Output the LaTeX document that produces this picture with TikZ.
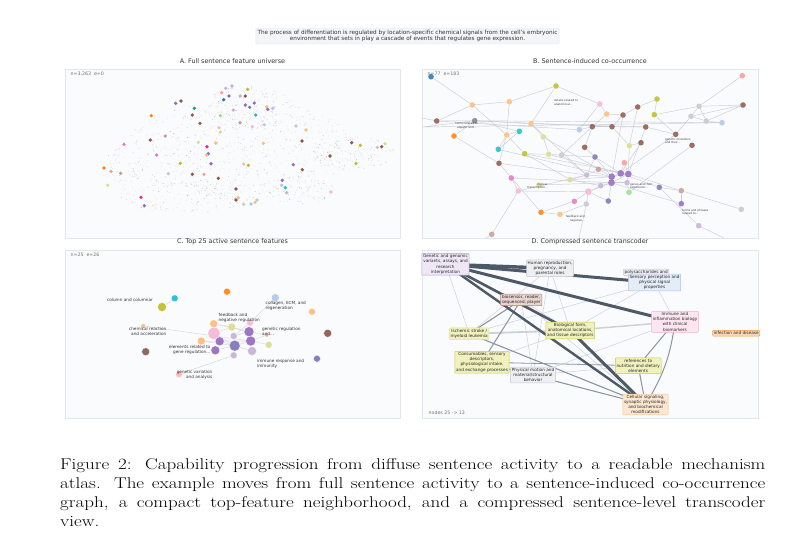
\documentclass[tikz,border=0pt]{standalone}
\usepackage{fontspec}
\setsansfont{DejaVu Sans}
\usetikzlibrary{positioning}

\definecolor{tpurple}{HTML}{9467BD}
\definecolor{tlilac}{HTML}{C5B0D5}
\definecolor{tbrown}{HTML}{8C564B}
\definecolor{trosy}{HTML}{C49C94}
\definecolor{tpink}{HTML}{E377C2}
\definecolor{tpinkl}{HTML}{F7B6D2}
\definecolor{tgray}{HTML}{7F7F7F}
\definecolor{tgrayl}{HTML}{C7C7C7}
\definecolor{tolive}{HTML}{BCBD22}
\definecolor{tolivel}{HTML}{DBDB8D}
\definecolor{tcyan}{HTML}{17BECF}
\definecolor{tblue}{HTML}{1F77B4}
\definecolor{tbluel}{HTML}{AEC7E8}
\definecolor{torange}{HTML}{FF7F0E}
\definecolor{tpeach}{HTML}{FFBB78}
\definecolor{tgreenl}{HTML}{98DF8A}
\definecolor{tsalmon}{HTML}{FF9896}
\definecolor{tslate}{HTML}{7B73B8}
\definecolor{tmag}{HTML}{E7298A}
\definecolor{tteal}{HTML}{1B9E77}
\definecolor{frame}{HTML}{E1E5EC}
\definecolor{framebg}{HTML}{FAFBFD}
\definecolor{qfill}{HTML}{F3F5F9}
\definecolor{bedge}{HTML}{C9CDD5}
\definecolor{dkedge}{HTML}{4E5968}
\definecolor{mdedge}{HTML}{8A94A2}
\definecolor{ltedge}{HTML}{CDD2DA}
\definecolor{lavf}{HTML}{EFE7F6}
\definecolor{lavd}{HTML}{B9A3D3}
\definecolor{greyf}{HTML}{EEEFF1}
\definecolor{greyd}{HTML}{C6C9CE}
\definecolor{rosef}{HTML}{EAD5D1}
\definecolor{rosed}{HTML}{B27F75}
\definecolor{yelf}{HTML}{F1F1BE}
\definecolor{yeld}{HTML}{CACA55}
\definecolor{bluef}{HTML}{E4ECF8}
\definecolor{blued}{HTML}{AFC4E6}
\definecolor{pinkf}{HTML}{FCE6EF}
\definecolor{pinkd}{HTML}{F1B4CA}
\definecolor{orf}{HTML}{FDD8B2}
\definecolor{ord}{HTML}{F49A4A}
\definecolor{peachf}{HTML}{FDE7D1}
\definecolor{peachd}{HTML}{F7C28C}

\pgfdeclarelayer{bg}
\pgfdeclarelayer{lk}
\pgfsetlayers{bg,lk,main}

\begin{document}
\begin{tikzpicture}[x=1pt, y=-1pt,
    every node/.style={font=\sffamily},
    panel/.style={rectangle, draw=frame, fill=framebg, line width=0.6pt, inner sep=0pt},
    ttl/.style={font=\sffamily\fontsize{6.4}{7.2}\selectfont, text=black!80, inner sep=0pt},
    cnt/.style={font=\sffamily\fontsize{4.7}{5.5}\selectfont, text=black!55, inner sep=0pt},
    qbox/.style={rectangle, rounded corners=1pt, draw=frame, fill=qfill, align=center,
                 font=\sffamily\fontsize{5.7}{6.8}\selectfont, inner sep=1.8pt, text=black!80},
    bn/.style={circle, inner sep=0pt, minimum size=5.6pt, fill opacity=0.85},
    bnb/.style={bn, minimum size=6.8pt},
    bl/.style={font=\sffamily\fontsize{2.8}{3.3}\selectfont, inner sep=0pt, text=black!75},
    ed/.style={draw=bedge, line width=0.45pt},
    cn/.style={circle, inner sep=0pt, draw=white, line width=0.3pt, fill opacity=0.9},
    cl/.style={font=\sffamily\fontsize{4.2}{5}\selectfont, inner sep=0pt, text=black!80},
    ce/.style={draw=black!15, line width=0.5pt},
    dbx/.style={rectangle, rounded corners=0.8pt, align=center, inner sep=1.2pt, line width=0.5pt,
                font=\sffamily\fontsize{4.2}{5.1}\selectfont, text=black!85},
    dkl/.style={draw=dkedge, line width=#1},
    mdl/.style={draw=mdedge, line width=#1},
    ltl/.style={draw=ltedge, line width=#1},
    figcap/.style={font=\rmfamily\fontsize{15.6}{19}\selectfont, text width=578pt, align=justify,
                   inner sep=0pt, xscale=1.22, transform shape},
  ]
  \useasboundingbox (0,0) rectangle (810,539);

  % query sentence
  \node[qbox] (query) at (407.5,36) {The process of differentiation is regulated by location-specific chemical signals from the cell's embryonic\\environment that sets in play a cascade of events that regulates gene expression.};

  % panel frames
  \begin{pgfonlayer}{bg}
    \node[panel, minimum width=335, minimum height=169] (pA) at (232.5,153.5) {};
    \node[panel, minimum width=336, minimum height=169] (pB) at (590,153.5) {};
    \node[panel, minimum width=335, minimum height=168] (pC) at (232.5,334) {};
    \node[panel, minimum width=336, minimum height=168] (pD) at (590,334) {};
  \end{pgfonlayer}
  \node[ttl, above=4.5pt of pA] (tA) {A. Full sentence feature universe};
  \node[ttl, above=4.5pt of pB] (tB) {B. Sentence-induced co-occurrence};
  \node[ttl, above=4.5pt of pC] (tC) {C. Top 25 active sentence features};
  \node[ttl, above=4.5pt of pD] (tD) {D. Compressed sentence transcoder};
  \node[cnt, anchor=north west] (nA) at (70.5,72) {n=3,263~~e=0};
  \node[cnt, anchor=north west] (nB) at (427.5,72) {n=77~~e=183};
  \node[cnt, anchor=north west] (nC) at (70.5,253) {n=25~~e=26};
  \node[cnt, anchor=west] (nD) at (428.5,412.3) {nodes 25 -> 13};

  % A: faint feature cloud
  \pgfmathsetseed{11}
  \foreach \cx/\cy/\rx/\ry/\nn in {238/150/118/50/650, 248/108/45/22/180, 352/153/42/17/160,
                                   185/196/65/18/200, 122/168/22/20/70, 300/190/35/14/100}{
    \foreach \i in {1,...,\nn}{
      \pgfmathsetmacro\ang{360*rnd}
      \pgfmathsetmacro\rr{sqrt(rnd)}
      \pgfmathtruncatemacro\k{mod(\i,3)}
      \ifcase\k \def\dc{tgray}\or\def\dc{tbluel}\or\def\dc{tpeach}\fi
      \fill[\dc, opacity=0.45] ({\cx+\rx*\rr*cos(\ang)},{\cy+\ry*\rr*sin(\ang)}) circle (0.45);
    }
  }
  % A: active features
  \foreach \x/\y/\c in {225.7/88.3/tlilac, 232/86/tlilac, 247.7/89.3/tolive, 221.7/92.7/tsalmon,
      229/96/tpurple, 240.3/96/tlilac, 245.3/96/tbrown, 223.7/99.7/tblue, 175.7/103.3/tslate,
      181/101/tbrown, 194.3/108.3/tteal, 245.3/105/tpurple, 254.3/103/tpurple, 249.7/107.3/tgray,
      266.7/106.7/tpeach, 267.7/109.3/tpurple, 272.7/108.3/tbluel, 233.3/110/tlilac, 255.7/115/tcyan,
      151.3/115.7/torange, 192.3/115/tbrown, 220.3/115.7/tgreenl, 240/122.7/trosy, 200/123.3/tbrown,
      264.3/124.7/tgrayl, 252.3/126.7/tpinkl, 296/126/tgrayl, 219/127.7/tpinkl, 220.3/132/tolivel,
      306/130/tpeach, 165.3/136/trosy, 150.3/140/tbrown, 302/141/tbrown, 198.3/142.3/tolivel,
      215.7/143/tpeach, 263.3/143.3/tpeach, 207/146.7/tmag, 124/144.3/tpink, 351.7/142.7/tbrown,
      360.3/145.3/tolive, 381.7/146.7/tbrown, 377.3/147.3/tgrayl, 385/143.7/tolivel, 208.3/153.7/tslate,
      206.7/155/tpeach, 156.7/155/tpink, 330/156/tbrown, 180.3/163.3/tolive, 211/163.7/tpurple,
      243.7/164/tpinkl, 248.3/165.3/tolive, 293.3/164.7/tpurple, 356/163.3/tolive, 104/168/torange,
      111/171.3/tsalmon, 120.7/173.3/trosy, 302.3/169.7/tbrown, 168.3/173.7/tgrayl, 192.3/174.3/tbrown,
      204/174.3/tsalmon, 218.3/178.3/tbrown, 282.3/180.3/tslate, 281.7/185.3/tbluel, 285.3/187.7/tcyan,
      286.7/192.7/tlilac, 236/189/tbrown, 331/192/tpinkl, 107.7/185.3/tolivel, 141/197.3/tmag,
      144.3/205.7/tpurple, 236/200/tbrown, 238.3/197.7/tpeach, 243.7/204.3/tgrayl, 251/204/tbluel,
      255/202.3/tpeach, 257/200/tgrayl}
    \fill[\c] (\x,\y) circle (1.8);

  % B: co-occurrence graph
  \foreach \n/\x/\y/\c in {1/431/76.7/tblue, 2/742.3/75.7/tsalmon, 3/556/86/tolive, 4/472.3/105/tpeach,
      5/509.3/101.7/tpeach, 6/599.7/104/tpinkl, 7/637.7/107/tbrown, 8/657/99/tolive, 9/699/106.3/tgrayl,
      10/743/105/tbrown, 11/606.7/114/tpeach, 12/623/115/tbrown, 13/654.3/114.7/tolive, 14/691/116.3/tgrayl,
      15/436.7/121/tbrown, 16/474.7/120.7/tgray, 17/531/123.7/tpeach, 18/706.3/121/tgrayl, 19/722/122.7/tbluel,
      20/592.3/126.7/tbrown, 21/612/126.7/tbrown, 22/645.7/127/tbrown, 23/579.3/129.7/tbluel, 24/519.3/131.3/tcyan,
      25/454/136/torange, 26/506.7/135/tpeach, 27/543.3/137/tolivel, 28/675.7/134.3/tbrown, 29/584.7/147.3/tbrown,
      30/629.3/145.7/tolivel, 31/641/142.7/tbrown, 32/692/145.3/tbrown, 33/498.3/149.3/tcyan, 34/524.7/153.7/tolive,
      35/548.7/154.3/tolivel, 36/561.7/155/tgrayl, 37/595/157/tslate, 38/499/163.3/tbrown, 39/624.3/162.7/tsalmon,
      40/598.3/169.3/trosy, 44/586.7/175/tlilac, 45/511.3/178/tpink, 46/570/179.7/tolivel, 48/627/182.7/tlilac,
      49/600.7/185.7/tlilac, 50/518.3/191/tpinkl, 51/539/185/tolivel, 53/629/192.3/tgreenl, 54/659.3/187.3/tslate,
      55/681.3/190.7/trosy, 56/681.3/203.7/tpurple, 57/741.3/209.3/tgrayl, 58/698.7/225.7/tlilac, 59/574.3/201.3/tpink,
      60/586.3/204/tgrayl, 61/608.3/201/tslate, 62/541/212.3/torange, 63/560/214.3/tpeach, 64/491.7/234.3/trosy}
    \node[bn, fill=\c] (b\n) at (\x,\y) {};
  \foreach \n/\x/\y/\c in {41/620.7/173.3/tpurple, 42/628.3/174/tpurple, 43/611.7/176.7/tpurple,
      47/611.5/182.7/tpurple, 52/588.3/191.7/tpinkl}
    \node[bnb, fill=\c] (b\n) at (\x,\y) {};
  \coordinate (bL1) at (422,118);
  \coordinate (bL2) at (422,127);
  \coordinate (bD1) at (486,238);
  \coordinate (bD2) at (579,238);
  \coordinate (bD3) at (724,238);
  \begin{pgfonlayer}{lk}
    \foreach \u/\v in {1/4, 4/5, 5/3, 3/17, 4/15, 4/26, 5/26, 15/16, 16/17, 16/24, 3/6, 6/11, 7/8, 7/12,
        8/13, 9/14, 9/10, 9/18, 14/18, 18/19, 10/14, 12/11, 11/20, 20/21, 21/22, 21/12, 23/20, 16/21, 17/22,
        15/23, 24/26, 24/33, 26/33, 26/34, 25/38, 27/17, 27/35, 28/22, 28/14, 28/41, 29/20, 29/37, 30/31,
        30/42, 30/21, 32/53, 34/35, 35/36, 36/37, 36/20, 37/41, 37/43, 37/44, 38/26, 39/42, 39/41, 40/44,
        40/41, 41/42, 41/43, 42/43, 43/44, 42/47, 43/47, 44/46, 47/48, 47/49, 48/53, 49/52, 47/52, 42/48,
        46/43, 46/49, 46/34, 33/43, 34/42, 35/41, 27/43, 45/47, 38/44, 51/47, 50/52, 50/64, 50/45, 50/44,
        52/59, 52/60, 52/61, 61/47, 59/62, 62/63, 63/60, 62/38, 54/41, 54/55, 55/42, 56/47, 57/55, 58/54,
        2/9, 10/18, 19/16, 13/28, 7/30, 6/23, 44/36, 25/16, 13/9, 31/41, 22/42, 12/43, 17/44, 56/55}
      \draw[ed] (b\u) -- (b\v);
    \draw[ed] (bL1) -- (b15) (bL2) -- (b16) (bL2) -- (b19) (b64) -- (bD1) (b60) -- (bD2) (b58) -- (bD3);
  \end{pgfonlayer}
  \node[bl, anchor=north west, align=left] (lb1) at (554,99.6) {details related to\\anatomical...};
  \node[bl, anchor=north, align=center] (lb2) at (466.7,122.6) {terms related to\\aquatic and...};
  \node[bl, anchor=north west, align=left] (lb3) at (665,138.3) {genetic mutations\\and their...};
  \node[bl, anchor=north east, align=right] (lb4) at (548,183.3) {nuclear\\transcription...};
  \node[bl, anchor=north west, align=left] (lb5) at (630,183.3) {genes and their\\expression...};
  \node[bl, anchor=north west, align=left] (lb6) at (682,209.3) {terms and phrases\\related to...};
  \node[bl, anchor=north east, align=right] (lb7) at (585,215.6) {feedback and\\negative...};

  % C: top active features
  \node[cn, fill=tolive, minimum size=9pt] (cCol) at (162,307) {};
  \node[cn, fill=tcyan, minimum size=7pt] (cCy) at (174.7,298.3) {};
  \node[cn, fill=torange, minimum size=7pt] (cOr) at (227,291.7) {};
  \node[cn, fill=tbluel, minimum size=8pt] (cEcm) at (275.3,297.7) {};
  \node[cn, fill=tpeach, minimum size=7pt] (cPe1) at (312,311.7) {};
  \node[cn, fill=tbrown, minimum size=8pt] (cBr1) at (327.7,333.3) {};
  \node[cn, fill=tbrown, minimum size=8pt] (cBr2) at (145.7,351.7) {};
  \node[cn, fill=tslate, minimum size=7pt] (cSl) at (317,358.7) {};
  \node[cn, fill=tsalmon!70, minimum size=7pt] (cVar) at (179,374.3) {};
  \node[cn, fill=tpeach, minimum size=5pt] (cChem) at (143.3,326) {};
  \node[cn, fill=tpeach, minimum size=8pt] (cPe2) at (213.7,323.7) {};
  \node[cn, fill=tolivel, minimum size=8pt] (cFb) at (231.7,327) {};
  \node[cn, fill=tpinkl, minimum size=7pt] (cPk1) at (250,322.7) {};
  \node[cn, fill=tpinkl, minimum size=12pt] (cPk2) at (214,333.3) {};
  \node[cn, fill=tlilac, minimum size=7pt] (cLi1) at (233.7,336) {};
  \node[cn, fill=tpurple, minimum size=10pt] (cPu1) at (249,331.7) {};
  \node[cn, fill=tsalmon, minimum size=4pt] (cGr) at (266.7,335) {};
  \node[cn, fill=tpurple, minimum size=9pt] (cPu2) at (219.7,341.3) {};
  \node[cn, fill=tpeach, minimum size=8pt] (cPe3) at (201.3,341) {};
  \node[cn, fill=tslate, minimum size=11pt] (cSl2) at (234.7,345.7) {};
  \node[cn, fill=tpurple, minimum size=10pt] (cPu3) at (250.7,341) {};
  \node[cn, fill=tolivel, minimum size=7pt] (cOl) at (268.7,344.7) {};
  \node[cn, fill=tpurple, minimum size=9pt] (cEl) at (215.3,350.3) {};
  \node[cn, fill=tlilac, minimum size=9pt] (cImm) at (252,351) {};
  \node[cn, fill=tlilac, minimum size=7pt] (cLi2) at (233.7,355.3) {};
  \begin{pgfonlayer}{lk}
    \draw[ce] (cCol) -- (cCy) (cChem) -- (cPu3) (cEcm) -- (cPk1) (cVar) -- (cLi2)
      (cPe2) -- (cFb) (cPe2) -- (cPu1) (cFb) -- (cPu1) (cFb) -- (cPk2) (cPk2) -- (cSl2)
      (cPk2) -- (cPu2) (cLi1) -- (cPu1) (cLi1) -- (cSl2) (cPu1) -- (cPu3) (cPu1) -- (cGr)
      (cPu2) -- (cSl2) (cPu2) -- (cEl) (cPe3) -- (cSl2) (cPe3) -- (cPu3) (cSl2) -- (cPu3)
      (cSl2) -- (cImm) (cSl2) -- (cEl) (cSl2) -- (cLi2) (cPu3) -- (cOl) (cPu3) -- (cImm)
      (cLi1) -- (cPk1) (cPu3) -- (cGr);
  \end{pgfonlayer}
  \node[cl, anchor=east] (lc1) at (153,300.3) {column and columnar};
  \node[cl, anchor=north west, align=left] (lc2) at (265.5,300.6) {collagen, ECM, and\\regeneration};
  \node[cl, anchor=north west, align=left] (lc3) at (218.5,313.2) {feedback and\\negative regulation};
  \node[cl, anchor=north east, align=right] (lc4) at (166.5,327.2) {chemical reaction\\and acceleration};
  \node[cl, anchor=north west, align=left] (lc5) at (262,326.6) {genetic regulation\\and...};
  \node[cl, anchor=north east, align=right] (lc6) at (210.5,345.2) {elements related to\\gene regulation...};
  \node[cl, anchor=north west, align=left] (lc7) at (257,358.9) {immune response and\\immunity};
  \node[cl, anchor=north east, align=right] (lc8) at (212.5,369.6) {genetic variation\\and analysis};

  % D: compressed transcoder
  \node[dbx, fill=lavf, draw=lavd] (dGen) at (445.5,264.3) {Genetic and genomic\\variants, assays, and\\research\\interpretation};
  \node[dbx, fill=greyf, draw=greyd] (dHum) at (550,268.2) {Human reproduction,\\pregnancy, and\\parental roles};
  \node[dbx, fill=rosef, draw=rosed] (dBio) at (521.2,299.9) {biosensor, reader,\\sequenced, player};
  \node[dbx, fill=yelf, draw=yeld!60] (dIsc) at (469.2,333.7) {Ischemic stroke /\\myeloid leukemia};
  \node[dbx, fill=yelf, draw=yeld] (dForm) at (570.3,330.5) {Biological form,\\anatomical locations,\\and tissue descriptors};
  \node[dbx, fill=greyf, draw=greyd, anchor=north] (dPoly) at (646.2,268.8) {polysaccharides and};
  \node[dbx, fill=bluef, draw=blued] (dSen) at (654.5,282.5) {Sensory perception and\\physical signal\\properties};
  \node[dbx, fill=pinkf, draw=pinkd] (dImm) at (675,321.8) {Immune and\\inflammation biology\\with clinical\\biomarkers};
  \node[dbx, fill=orf, draw=ord] (dInf) at (736.2,333.2) {infection and disease};
  \node[dbx, fill=yelf, draw=yeld] (dCon) at (482,362.2) {Consumables, sensory\\descriptors,\\physiological intake,\\and exchange processes};
  \node[dbx, fill=greyf, draw=greyd] (dPhy) at (533,375) {Physical motion and\\material/structural\\behavior};
  \node[dbx, fill=yelf, draw=yeld] (dRef) at (638.2,365.7) {references to\\nutrition and dietary\\elements};
  \node[dbx, fill=peachf, draw=peachd] (dCel) at (645.5,404.5) {Cellular signaling,\\synaptic physiology,\\and biochemical\\modifications};
  \begin{pgfonlayer}{lk}
    \draw[ltl=0.5] (dGen.center) -- (dIsc.center);
    \draw[ltl=0.5] (dHum.center) -- (dIsc.center);
    \draw[ltl=0.5] (dHum.center) -- (dPhy.center);
    \draw[ltl=0.5] (dHum.center) -- (dForm.center);
    \draw[ltl=0.5] (dBio.center) -- (dPhy.center);
    \draw[ltl=0.5] (dBio.center) -- (dForm.center);
    \draw[ltl=0.5] (dBio.center) -- (dCel.center);
    \draw[ltl=0.5] (dSen.center) -- (dForm.center);
    \draw[ltl=0.5] (dSen.center) -- (dImm.center);
    \draw[ltl=0.5] (dSen.center) -- (dIsc.center);
    \draw[ltl=0.5] (dImm.center) -- (dPhy.center);
    \draw[ltl=0.5] (dRef.center) -- (dPhy.center);
    \draw[ltl=0.5] (dPhy.center) -- (dCel.center);
    \draw[ltl=0.5] (dCon.center) -- (dForm.center);
    \draw[ltl=1.8] (dIsc.center) -- (dForm.center);
    \draw[ltl=1.5] (dForm.center) -- (dImm.center);
    \draw[mdl=0.8] (dCon.center) -- (dRef.center);
    \draw[mdl=1.1] (dBio.center) -- (dIsc.center);
    \draw[mdl=1] (dBio.center) -- (dCon.center);
    \draw[mdl=1.1] (dIsc.center) -- (dCel.center);
    \draw[mdl=1] (dImm.center) -- (dRef.center);
    \draw[mdl=1] (dImm.center) to[bend left=12] (dCel.center);
    \draw[mdl=1] (dRef.center) -- (dCel.center);
    \draw[mdl=1] (dCon.center) -- (dCel.center);
    \draw[dkl=3.4] (dGen.center) -- (dHum.center);
    \draw[dkl=3] (dGen.center) -- (dSen.center);
    \draw[dkl=3] (dGen.center) -- (dImm.center);
    \draw[dkl=2.6] (dGen.center) -- (dForm.center);
    \draw[dkl=2.4] (dGen.center) -- (dCel.center);
    \draw[dkl=3] (dForm.center) -- (dCel.center);
  \end{pgfonlayer}

  % figure caption
  \coordinate (capAt) at (60,458);
  \node[figcap, anchor=north west] (caption) at (capAt) {Figure 2: Capability progression from diffuse sentence activity to a readable mechanism\linebreak atlas. The example moves from full sentence activity to a sentence-induced co-occurrence\linebreak graph, a compact top-feature neighborhood, and a compressed sentence-level transcoder\linebreak view.};
\end{tikzpicture}
\end{document}
